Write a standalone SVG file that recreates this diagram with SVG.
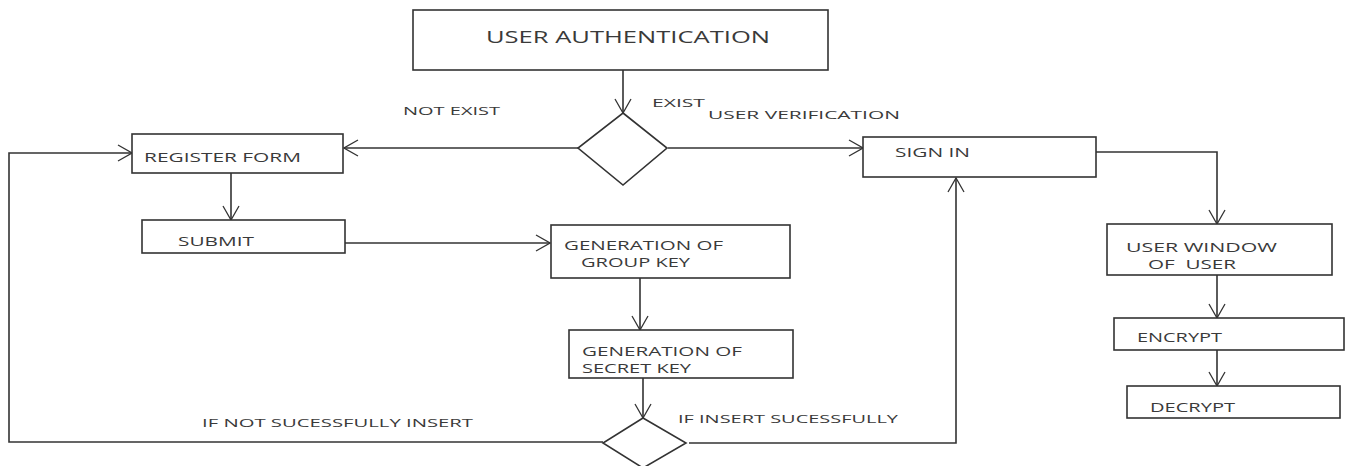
<svg xmlns="http://www.w3.org/2000/svg" width="1347" height="466" viewBox="0 0 1347 466">
  <style>
    .box { fill: #fff; stroke: #333; stroke-width: 1.6; }
    .dec { fill: #fff; stroke: #333; stroke-width: 1.6; }
    .edge { fill: none; stroke: #333; stroke-width: 1.6; }
    .lbl { font-family: "Open Sans", "Liberation Sans", sans-serif; fill: #3a3a3a; font-size: 13px; }
    .lbl-sm { font-family: "Open Sans", "Liberation Sans", sans-serif; fill: #3a3a3a; font-size: 12px; }
    .title { font-family: "Open Sans", "Liberation Sans", sans-serif; fill: #3a3a3a; font-size: 17px; }
    .note { font-family: "Open Sans", "Liberation Sans", sans-serif; fill: #3a3a3a; font-size: 11.5px; }
  </style>
  <defs>
    <marker id="arr" viewBox="0 0 16 18" refX="15" refY="9" markerWidth="16" markerHeight="18" markerUnits="userSpaceOnUse" orient="auto">
      <polyline points="1,1 15,9 1,17" fill="none" stroke="#333" stroke-width="1.3"/>
    </marker>
  </defs>
  <rect width="1347" height="466" fill="#fff"/>

  <g id="connectors">
    <!-- auth -> decision -->
    <line class="edge" x1="623" y1="70" x2="623" y2="113" marker-end="url(#arr)"/>
    <!-- decision -> register (not exist) -->
    <line class="edge" x1="578" y1="148" x2="344" y2="148" marker-end="url(#arr)"/>
    <!-- decision -> sign in (exist) -->
    <line class="edge" x1="668" y1="148" x2="863" y2="148" marker-end="url(#arr)"/>
    <!-- register -> submit -->
    <line class="edge" x1="231" y1="173" x2="231" y2="220" marker-end="url(#arr)"/>
    <!-- submit -> group key -->
    <line class="edge" x1="345" y1="243" x2="550" y2="243" marker-end="url(#arr)"/>
    <!-- group key -> secret key -->
    <line class="edge" x1="640" y1="278" x2="640" y2="330" marker-end="url(#arr)"/>
    <!-- secret key -> insert decision -->
    <line class="edge" x1="643" y1="378" x2="643" y2="418" marker-end="url(#arr)"/>
    <!-- insert failed -> back to register -->
    <polyline class="edge" points="603,442 9,442 9,153 132,153" marker-end="url(#arr)"/>
    <!-- insert succeeded -> sign in -->
    <polyline class="edge" points="689,443 956,443 956,178" marker-end="url(#arr)"/>
    <!-- sign in -> user window -->
    <polyline class="edge" points="1096,152 1217,152 1217,224" marker-end="url(#arr)"/>
    <!-- user window -> encrypt -->
    <line class="edge" x1="1217" y1="275" x2="1217" y2="318" marker-end="url(#arr)"/>
    <!-- encrypt -> decrypt -->
    <line class="edge" x1="1217" y1="350" x2="1217" y2="386" marker-end="url(#arr)"/>
  </g>

  <g id="edge-labels">
    <text class="note" x="403" y="115" textLength="97" lengthAdjust="spacingAndGlyphs">NOT EXIST</text>
    <text class="note" x="652" y="107" textLength="53" lengthAdjust="spacingAndGlyphs">EXIST</text>
    <text class="note" x="708" y="119" textLength="192" lengthAdjust="spacingAndGlyphs">USER VERIFICATION</text>
    <text class="note" x="202" y="427" textLength="271" lengthAdjust="spacingAndGlyphs">IF NOT SUCESSFULLY INSERT</text>
    <text class="note" x="678" y="423" textLength="220" lengthAdjust="spacingAndGlyphs">IF INSERT SUCESSFULLY</text>
  </g>

  <g id="user-authentication">
    <rect class="box" x="413" y="10" width="415" height="60"/>
    <text class="title" x="486" y="43" textLength="284" lengthAdjust="spacingAndGlyphs">USER AUTHENTICATION</text>
  </g>

  <g id="user-exists-decision">
    <polygon class="dec" points="623,113 667,148 623,185 578,148"/>
  </g>

  <g id="register-form">
    <rect class="box" x="132" y="134" width="211" height="39"/>
    <text class="lbl" x="144" y="162" textLength="157" lengthAdjust="spacingAndGlyphs">REGISTER FORM</text>
  </g>

  <g id="submit">
    <rect class="box" x="142" y="220" width="203" height="33"/>
    <text class="lbl" x="178" y="246" textLength="76" lengthAdjust="spacingAndGlyphs">SUBMIT</text>
  </g>

  <g id="group-key">
    <rect class="box" x="551" y="225" width="239" height="53"/>
    <text class="lbl" x="564" y="250" textLength="159" lengthAdjust="spacingAndGlyphs">GENERATION OF</text>
    <text class="lbl" x="581" y="267" textLength="109" lengthAdjust="spacingAndGlyphs">GROUP KEY</text>
  </g>

  <g id="secret-key">
    <rect class="box" x="569" y="330" width="224" height="48"/>
    <text class="lbl" x="582" y="356" textLength="160" lengthAdjust="spacingAndGlyphs">GENERATION OF</text>
    <text class="lbl" x="582" y="373" textLength="109" lengthAdjust="spacingAndGlyphs">SECRET KEY</text>
  </g>

  <g id="insert-decision">
    <polygon class="dec" points="643,418 686,443 643,468 603,443"/>
  </g>

  <g id="sign-in">
    <rect class="box" x="863" y="137" width="233" height="40"/>
    <text class="lbl" x="895" y="157" textLength="75" lengthAdjust="spacingAndGlyphs">SIGN IN</text>
  </g>

  <g id="user-window">
    <rect class="box" x="1107" y="224" width="225" height="51"/>
    <text class="lbl-sm" x="1126" y="252" textLength="151" lengthAdjust="spacingAndGlyphs">USER WINDOW</text>
    <text class="lbl-sm" x="1148" y="269" textLength="88" lengthAdjust="spacingAndGlyphs" xml:space="preserve">OF  USER</text>
  </g>

  <g id="encrypt">
    <rect class="box" x="1114" y="318" width="230" height="32"/>
    <text class="lbl" x="1137" y="342" textLength="85" lengthAdjust="spacingAndGlyphs">ENCRYPT</text>
  </g>

  <g id="decrypt">
    <rect class="box" x="1127" y="386" width="213" height="32"/>
    <text class="lbl" x="1150" y="412" textLength="85" lengthAdjust="spacingAndGlyphs">DECRYPT</text>
  </g>
</svg>
